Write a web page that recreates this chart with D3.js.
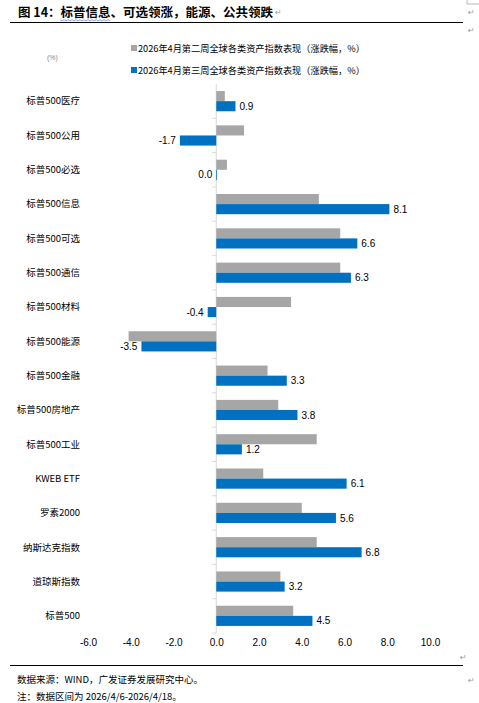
<!DOCTYPE html>
<html>
<head>
<meta charset="utf-8">
<script src="https://cdn.jsdelivr.net/npm/d3@7"></script>
<style>
  body { margin: 0; background: #fff; }
  svg { display: block; }
</style>
</head>
<body>
<div id="chart"></div>
<script>
const categories = ['标普500医疗', '标普500公用', '标普500必选', '标普500信息', '标普500可选', '标普500通信',
  '标普500材料', '标普500能源', '标普500金融', '标普500房地产', '标普500工业', 'KWEB ETF',
  '罗素2000', '纳斯达克指数', '道琼斯指数', '标普500']
const seriesNames = ['2026年4月第二周全球各类资产指数表现（涨跌幅，%）', '2026年4月第三周全球各类资产指数表现（涨跌幅，%）']
const week2 = [0.4, 1.3, 0.5, 4.8, 5.8, 5.8, 3.5, -4.1, 2.4, 2.9, 4.7, 2.2, 4.0, 4.7, 3.0, 3.6]
const week3 = [0.9, -1.7, 0.0, 8.1, 6.6, 6.3, -0.4, -3.5, 3.3, 3.8, 1.2, 6.1, 5.6, 6.8, 3.2, 4.5]
const xTicks = [-6, -4, -2, 0, 2, 4, 6, 8, 10]
const colors = ['#A6A6A6', '#0070C0']

const width = 479
const height = 703
const cjk = '"Noto Sans CJK SC", "Liberation Sans", sans-serif'
const latin = '"Liberation Sans", Arial, sans-serif'

const svg = d3.select('#chart')
              .append('svg')
              .attr('width', width)
              .attr('height', height)

// title + rules
svg.append('text')
   .attr('x', 18)
   .attr('y', 17)
   .attr('font-family', cjk)
   .attr('font-weight', 'bold')
   .attr('font-size', 12.5)
   .attr('fill', '#000')
   .text('图 14：标普信息、可选领涨，能源、公共领跌')

// spell-check squiggle under 标普信息
svg.append('path')
   .attr('d', d3.range(60, 111, 2).map((x, i) => `${i ? 'L' : 'M'}${x},${i % 2 ? 21 : 19.6}`).join(''))
   .attr('fill', 'none')
   .attr('stroke', '#5a7bd6')
   .attr('stroke-width', 0.7)

svg.append('line')
   .attr('x1', 10).attr('x2', 463)
   .attr('y1', 22.5).attr('y2', 22.5)
   .attr('stroke', '#000')
   .attr('stroke-width', 1.1)

const marks = [[275, 15], [468, 15], [468, 33], [460, 660], [468, 683]]
svg.selectAll('text.mark')
   .data(marks)
   .enter()
   .append('text')
   .attr('class', 'mark')
   .attr('x', d => d[0])
   .attr('y', d => d[1])
   .attr('font-family', '"DejaVu Sans", sans-serif')
   .attr('font-size', 8)
   .attr('fill', '#9a9a9a')
   .text('↵')

svg.append('path')
   .attr('d', 'M467,0V4H479')
   .attr('fill', 'none')
   .attr('stroke', '#bbb')

// scales
const x = d3.scaleLinear()
            .domain([-6, 10])
            .range([88, 430])

const y = d3.scaleBand()
            .domain(categories)
            .range([84, 633])

const ySub = d3.scaleBand()
               .domain([0, 1])
               .range([0, y.step()])
               .paddingOuter(0.7)

// legend
const legend = svg.append('g')
legend.selectAll('rect')
      .data(seriesNames)
      .enter()
      .append('rect')
      .attr('x', 131)
      .attr('y', (_, i) => 45 + i * 22)
      .attr('width', 6)
      .attr('height', 6)
      .attr('fill', (_, i) => colors[i])
legend.selectAll('text')
      .data(seriesNames)
      .enter()
      .append('text')
      .attr('x', 138)
      .attr('y', (_, i) => 51.5 + i * 22)
      .attr('font-family', cjk)
      .attr('font-size', 9.2)
      .attr('fill', '#000')
      .text(d => d)

svg.append('text')
   .attr('x', 47)
   .attr('y', 60)
   .attr('font-family', latin)
   .attr('font-size', 7)
   .attr('fill', '#888')
   .text('(%)')

// zero axis with category ticks
const g = svg.append('g')
g.append('line')
 .attr('x1', x(0)).attr('x2', x(0))
 .attr('y1', y.range()[0]).attr('y2', y.range()[1])
 .attr('stroke', '#D9D9D9')
g.selectAll('line.tick')
 .data(categories.slice(1).concat(['end']))
 .enter()
 .append('line')
 .attr('class', 'tick')
 .attr('x1', x(0) - 4).attr('x2', x(0))
 .attr('y1', d => d === 'end' ? y.range()[1] : y(d))
 .attr('y2', d => d === 'end' ? y.range()[1] : y(d))
 .attr('stroke', '#D9D9D9')

// category labels
g.selectAll('text.cat')
 .data(categories)
 .enter()
 .append('text')
 .attr('class', 'cat')
 .attr('x', 80)
 .attr('y', d => y(d) + y.step() / 2)
 .attr('dy', '0.35em')
 .attr('text-anchor', 'end')
 .attr('font-family', cjk)
 .attr('font-size', 9.5)
 .attr('fill', '#000')
 .text(d => d)

// bars
const series = [week2, week3]
series.forEach((vals, s) => {
  g.selectAll(`rect.s${s}`)
   .data(vals)
   .enter()
   .append('rect')
   .attr('class', `s${s}`)
   .attr('x', d => x(Math.min(0, d)))
   .attr('y', (_, i) => y(categories[i]) + ySub(s))
   .attr('width', d => Math.max(0.8, Math.abs(x(d) - x(0))))
   .attr('height', ySub.bandwidth())
   .attr('fill', colors[s])
})

// labels on the blue series
g.selectAll('text.val')
 .data(week3)
 .enter()
 .append('text')
 .attr('class', 'val')
 .attr('x', d => d > 0 ? x(d) + 4 : x(d) - 4)
 .attr('y', (_, i) => y(categories[i]) + ySub(1) + ySub.bandwidth() / 2)
 .attr('dy', '0.36em')
 .attr('text-anchor', d => d > 0 ? 'start' : 'end')
 .attr('font-family', latin)
 .attr('font-size', 10)
 .attr('fill', '#000')
 .text(d => d.toFixed(1))

// value axis
svg.append('g')
   .attr('transform', `translate(0, ${y.range()[1]})`)
   .call(d3.axisBottom(x)
           .tickValues(xTicks)
           .tickSize(0)
           .tickPadding(6)
           .tickFormat(d => d.toFixed(1)))
   .call(a => a.select('.domain').remove())
   .selectAll('text')
   .attr('font-family', latin)
   .attr('font-size', 10)
   .attr('fill', '#000')

// footer
svg.append('line')
   .attr('x1', 10).attr('x2', 463)
   .attr('y1', 665.5).attr('y2', 665.5)
   .attr('stroke', '#000')
   .attr('stroke-width', 1.1)

const notes = ['数据来源：WIND，广发证券发展研究中心。', '注：数据区间为 2026/4/6-2026/4/18。']
svg.selectAll('text.note')
   .data(notes)
   .enter()
   .append('text')
   .attr('class', 'note')
   .attr('x', 17)
   .attr('y', (_, i) => 683 + i * 17)
   .attr('font-family', cjk)
   .attr('font-size', 9.5)
   .attr('fill', '#000')
   .text(d => d)
</script>
</body>
</html>
